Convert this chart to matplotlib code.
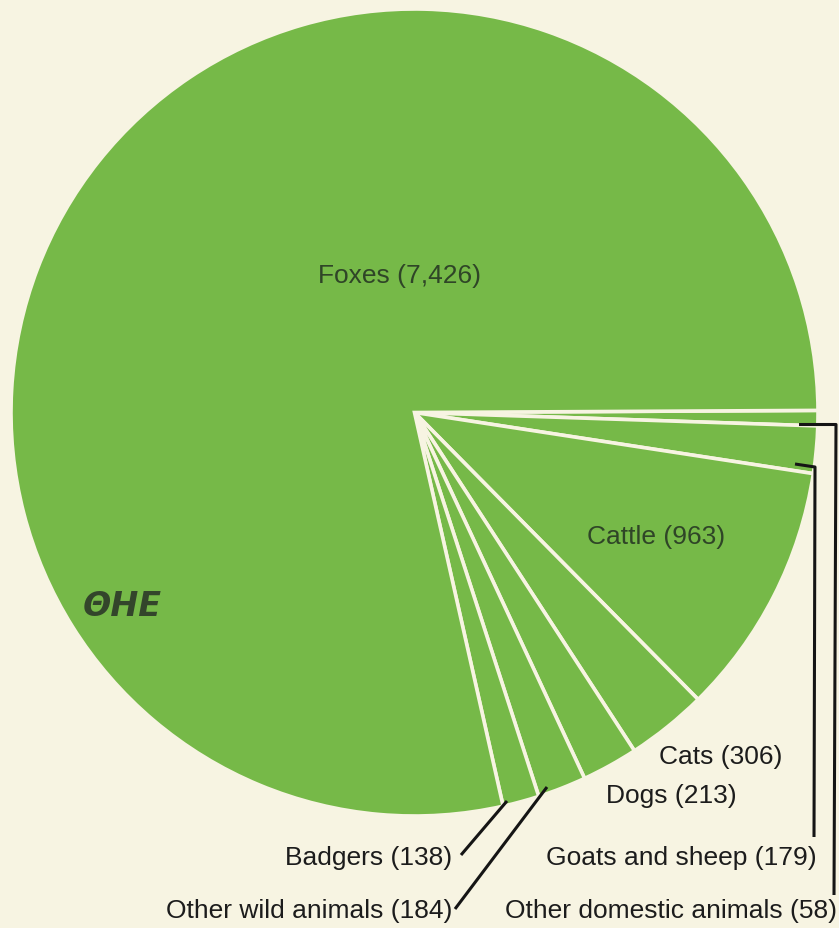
import matplotlib

matplotlib.use("Agg")
import matplotlib.pyplot as plt

# animal rabies cases by species
species = ["Other domestic animals", "Goats and sheep", "Cattle", "Cats", "Dogs",
           "Other wild animals", "Badgers", "Foxes"]
cases = [58, 179, 963, 306, 213, 184, 138, 7426]

BG = "#f7f4e2"
GREEN = "#76b948"
W, H = 839, 929


def Y(y):
    # pixel row (from top) -> data y
    return H - y


fig = plt.figure(figsize=(W / 100, H / 100), dpi=100, facecolor=BG)
ax = fig.add_axes([0, 0, 1, 1])
ax.set_facecolor(BG)

ax.pie(cases, startangle=0.3, counterclock=False,
       center=(414.5, Y(413.5)), radius=403.5,
       colors=[GREEN] * len(cases),
       wedgeprops=dict(edgecolor=BG, linewidth=2.6), frame=True)
ax.set_xlim(0, W)
ax.set_ylim(0, H)
ax.set_aspect("equal")
ax.axis("off")

font = dict(family=["Liberation Sans", "DejaVu Sans"], fontsize=19)
lab = {s: f"{s} ({v:,})" for s, v in zip(species, cases)}

# labels inside the pie
ax.text(400, Y(283), lab["Foxes"], ha="center", va="baseline", color="#2f4527", **font)
ax.text(656, Y(544), lab["Cattle"], ha="center", va="baseline", color="#2f4527", **font)

# labels outside
ax.text(782, Y(764), lab["Cats"], ha="right", va="baseline", color="#1c1c1c", **font)
ax.text(737, Y(803), lab["Dogs"], ha="right", va="baseline", color="#1c1c1c", **font)
ax.text(817, Y(865), lab["Goats and sheep"], ha="right", va="baseline", color="#1c1c1c", **font)
ax.text(837, Y(918), lab["Other domestic animals"], ha="right", va="baseline", color="#1c1c1c", **font)
ax.text(452, Y(865), lab["Badgers"], ha="right", va="baseline", color="#1c1c1c", **font)
ax.text(452, Y(918), lab["Other wild animals"], ha="right", va="baseline", color="#1c1c1c", **font)

# leader lines
lk = dict(color="#151515", lw=2.2, solid_capstyle="butt")
ax.plot([461, 507], [Y(856), Y(802)], **lk)
ax.plot([455, 547], [Y(910), Y(788)], **lk)
ax.plot([795, 815, 814], [Y(465), Y(468), Y(838)], **lk)
ax.plot([799, 836, 834], [Y(425.5), Y(425.5), Y(896)], **lk)

# OHE logo
ax.text(122, Y(606), "ΘHE", ha="center", va="center", color="#33452b",
        fontsize=24, fontweight="bold", fontstyle="italic",
        family=["DejaVu Sans"])

fig.savefig("out.png", dpi=100, facecolor=BG)
